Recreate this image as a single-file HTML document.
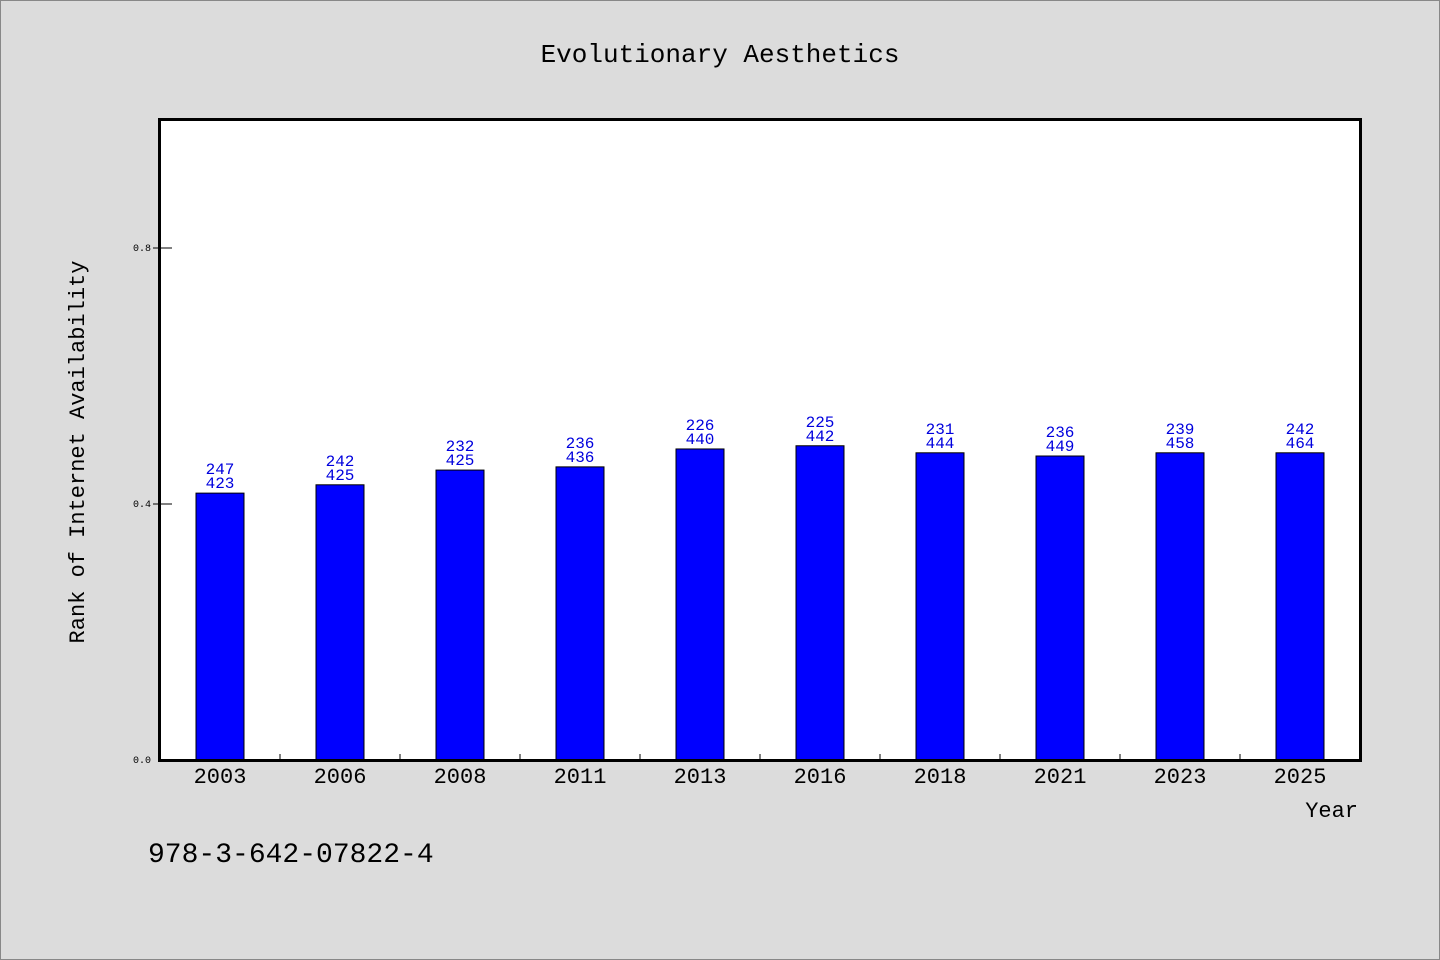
<!DOCTYPE html>
<html><head><meta charset="utf-8"><style>
body{margin:0;background:#dcdcdc;}
svg{display:block;font-family:"Liberation Mono","DejaVu Sans Mono",monospace;}
</style></head><body>
<svg width="1440" height="960" viewBox="0 0 1440 960">
<rect x="0.5" y="0.5" width="1439" height="959" fill="#dcdcdc" stroke="#888"/>
<text x="720" y="62" text-anchor="middle" font-size="26" fill="#000">Evolutionary Aesthetics</text>
<rect x="159.5" y="119.5" width="1201" height="641" fill="#fff"/>
<g id="bars"></g>
<rect x="159.5" y="119.5" width="1201" height="641" fill="none" stroke="#000" stroke-width="3"/>
<text transform="translate(84,452) rotate(-90)" text-anchor="middle" font-size="22" fill="#000">Rank of Internet Availability</text>
<text x="1358" y="817" text-anchor="end" font-size="22" fill="#000">Year</text>
<text x="148" y="862" font-size="28" fill="#000">978-3-642-07822-4</text>
</svg>
<script>
const categories=["2003","2006","2008","2011","2013","2016","2018","2021","2023","2025"];
const values=[0.417,0.430,0.453,0.458,0.486,0.491,0.480,0.475,0.480,0.480];
const labelTop=["247","242","232","236","226","225","231","236","239","242"];
const labelBottom=["423","425","425","436","440","442","444","449","458","464"];
const yTicks=[0.0,0.4,0.8];
const NS="http://www.w3.org/2000/svg";
const x0=160,x1=1360,y0=760,y1=120;
const step=(x1-x0)/categories.length;
const xS=i=>x0+step*(i+0.5);
const yS=v=>y0-(v/1.0)*(y0-y1);
const g=document.getElementById('bars');
function mk(t,a){const e=document.createElementNS(NS,t);for(const k in a)e.setAttribute(k,a[k]);g.appendChild(e);return e;}
categories.forEach((c,i)=>{
  const cx=xS(i),top=yS(values[i]);
  const r=mk('rect',{x:cx-24,y:top,width:48,height:y0-top,fill:'#0000ff',stroke:'#000','stroke-width':1});
  
  
  const t1=mk('text',{x:cx,y:top-19,'text-anchor':'middle','font-size':16,fill:'#0000dd'});
  t1.textContent=labelTop[i];
  
  
  const t2=mk('text',{x:cx,y:top-5,'text-anchor':'middle','font-size':16,fill:'#0000dd'});
  t2.textContent=labelBottom[i];
  
  
  const xl=mk('text',{x:cx,y:783,'text-anchor':'middle','font-size':22,fill:'#000'});
  xl.textContent=c;
  
  
  if(i>0){
    const tk=mk('line',{x1:x0+step*i,x2:x0+step*i,y1:y0,y2:y0-6,stroke:'#000','stroke-width':1});
    
    
  }
});
yTicks.forEach(v=>{
  const y=yS(v);
  if(v>0){
    const tk=mk('line',{x1:153,x2:172,y1:y,y2:y,stroke:'#000','stroke-width':1});
    
    
  }
  const tl=mk('text',{x:151,y:y+3,'text-anchor':'end','font-size':10,fill:'#000'});
  tl.textContent=v.toFixed(1);
  
  
});
</script>
</body></html>
